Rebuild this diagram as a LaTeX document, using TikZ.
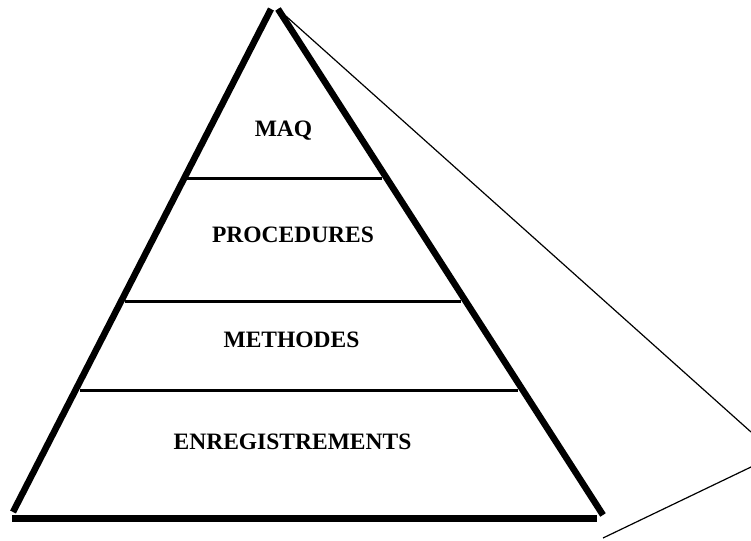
\documentclass[tikz,border=0pt]{standalone}
\usepackage{fontspec}
\setmainfont{Liberation Serif}

\begin{document}
\begin{tikzpicture}[x=1pt,y=-1pt,
        side/.style={line width=6.5pt},
        layer/.style={line width=3pt},
        ray/.style={line width=1.2pt},
        lbl/.style={anchor=base,inner sep=0pt,font=\fontsize{23.5}{28}\selectfont\bfseries}]
        \useasboundingbox (0,0) rectangle (751,540);

        \coordinate (TL) at (271,9);
        \coordinate (TR) at (278,9);
        \coordinate (BL) at (13,512);
        \coordinate (BR) at (603,515);
        \coordinate (GL) at (12,518.5);
        \coordinate (GR) at (597,518.5);
        \coordinate (R1) at (751,432);
        \coordinate (R2) at (603,538);
        \coordinate (R3) at (751,467);

        \draw[side] (TL) -- (BL);
        \draw[side] (TR) -- (BR);
        \draw[side] (GL) -- (GR);

        \draw[layer] (187,178) -- (382,178);
        \draw[layer] (125,301) -- (461,301);
        \draw[layer] (80,390) -- (518,390);

        \draw[ray] (TR) -- (R1);
        \draw[ray] (R2) -- (R3);

        \node[lbl] (Q) at (283.5,137) {MAQ};
        \node[lbl] (P) at (293,242) {PROCEDURES};
        \node[lbl] (M) at (291.5,347) {METHODES};
        \node[lbl] (E) at (292.5,449) {ENREGISTREMENTS};
    \end{tikzpicture}
\end{document}
